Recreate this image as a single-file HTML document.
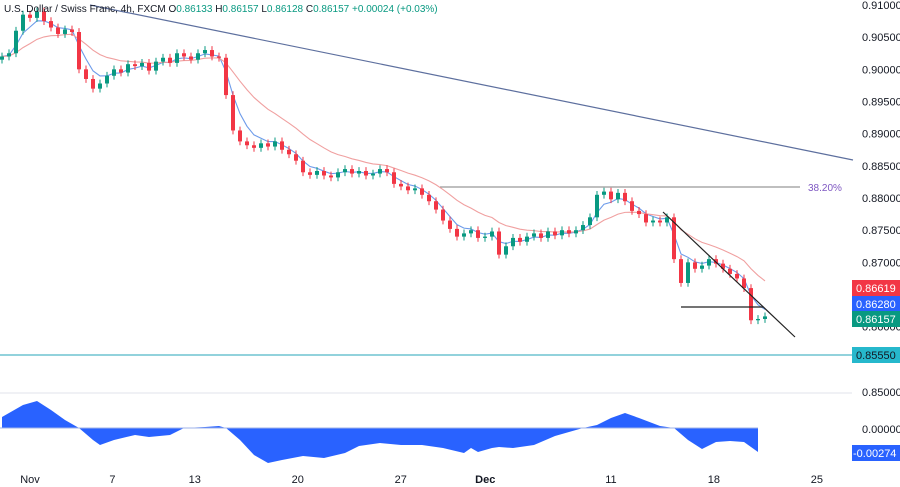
<!DOCTYPE html>
<html><head><meta charset="utf-8"><style>
html,body{margin:0;padding:0;background:#fff;}
svg{display:block;font-family:"Liberation Sans",sans-serif;}
</style></head><body>
<svg id="c" width="900" height="487"></svg>
<script>
// ---- data ----
const closes=[0.9020,0.9025,0.9060,0.9085,0.9080,0.9090,0.9075,0.9065,0.9055,0.9062,0.9058,0.9000,0.8985,0.8970,0.8978,0.8990,0.9000,0.8995,0.9008,0.9005,0.9010,0.8998,0.9012,0.9018,0.9010,0.9025,0.9020,0.9015,0.9025,0.9030,0.9020,0.9018,0.8960,0.8905,0.8888,0.8882,0.8878,0.8885,0.8880,0.8888,0.8875,0.8868,0.8858,0.8840,0.8836,0.8842,0.8835,0.8832,0.8840,0.8845,0.8838,0.8842,0.8835,0.8838,0.8845,0.8840,0.8822,0.8818,0.8812,0.8815,0.8805,0.8795,0.8782,0.8765,0.8752,0.8740,0.8745,0.8750,0.8738,0.8740,0.8748,0.8712,0.8725,0.8738,0.8732,0.8740,0.8745,0.8738,0.8748,0.8742,0.8750,0.8745,0.8750,0.8758,0.8770,0.8805,0.8810,0.8798,0.8808,0.8795,0.8780,0.8775,0.8762,0.8765,0.8762,0.8770,0.8705,0.8668,0.8700,0.8690,0.8695,0.8705,0.8698,0.8690,0.8682,0.8675,0.8660,0.8610,0.8612,0.8616];
const oscIdx=[0,3,5,7,9,11,13,14,16,19,21,24,26,29,31,32,34,36,38,40,43,46,49,51,54,57,60,63,66,67,68,70,71,73,76,79,81,83,85,87,89,91,94,96,98,100,102,104,106,108];
const oscVal=[125,262,308,205,91,0,-137,-194,-137,-80,-103,-80,0,11,23,0,-137,-308,-399,-365,-319,-342,-285,-205,-171,-194,-194,-228,-285,-228,-274,-228,-217,-228,-194,-91,-46,0,34,114,171,114,23,0,-137,-239,-160,-148,-160,-274];
const yTicks=[0.91,0.905,0.90,0.895,0.89,0.885,0.88,0.875,0.87,0.865,0.86,0.85];
const xLabels=["Nov","7","13","20","27","Dec","11","18","25"];
const xLabelDays=[0,4,8,13,18,22.1,28.2,33.2,38.2];
// ---- scales ----
const S=document.getElementById('c');const NS='http://www.w3.org/2000/svg';
const py=p=>5+(0.91-p)/0.005*32.17;
const bx=i=>2+i*7;
const dx=d=>30+d*20.6;
const oy=v=>428-v/11.4;
function mk(t,a,parent){const e=document.createElementNS(NS,t);for(const k in a)e.setAttribute(k,a[k]);(parent||S).appendChild(e);return e;}
let e=mk('line',{x1:0,y1:393,x2:852,y2:393,stroke:'#e0e3eb'});

yTicks.forEach(t=>{let y=py(t);if(t===0.85)y=392;const tx=mk('text',{x:862,y:y+4,'font-size':11,fill:'#131722'});tx.textContent=t.toFixed(5);
});
xLabels.forEach((l,i)=>{const tx=mk('text',{x:dx(xLabelDays[i]),y:483,'font-size':11,fill:'#131722','text-anchor':'middle','font-weight':l==='Dec'?'bold':'normal'});tx.textContent=l;
});
e=mk('line',{x1:90,y1:5,x2:853,y2:160,stroke:'#5d6f9e','stroke-width':1.2});

e=mk('line',{x1:440,y1:187,x2:800,y2:187,stroke:'#555','stroke-width':0.8});

e=mk('text',{x:808,y:191,'font-size':10,fill:'#7e57c2'});e.textContent='38.20%';

e=mk('line',{x1:0,y1:355,x2:852,y2:355,stroke:'#26a6b8','stroke-width':1});

function ema(n){let r=[],k=2/(n+1),v=closes[0];closes.forEach(c=>{v=c*k+v*(1-k);r.push(v);});return r;}
[[ema(4),'#6d9bea','fast-ma'],[ema(14),'#f0a0a0','slow-ma']].forEach(([a,c,n])=>{
e=mk('polyline',{points:a.map((v,i)=>bx(i)+','+py(v)).join(' '),fill:'none',stroke:c,'stroke-width':1.1});
});
const g=mk('g',{});
closes.forEach((c,i)=>{const o=i?closes[i-1]:c-0.0005;const up=c>=o;const col=up?'#089981':'#f23645';
const hi=Math.max(o,c)+0.0006,lo=Math.min(o,c)-0.0006;const x=bx(i);
let w=mk('line',{x1:x,y1:py(hi),x2:x,y2:py(lo),stroke:col,'stroke-width':1},g);

let b=mk('rect',{x:x-2,y:py(Math.max(o,c)),width:4,height:Math.max(1,Math.abs(py(o)-py(c))),fill:col},g);
});
e=mk('line',{x1:663,y1:212,x2:795,y2:337,stroke:'#222','stroke-width':1.2});

e=mk('line',{x1:681,y1:307,x2:763,y2:307,stroke:'#222','stroke-width':1.2});

let pts=oscIdx.map((j,i)=>bx(j)+','+oy(oscVal[i]));
e=mk('polygon',{points:bx(oscIdx[0])+','+oy(0)+' '+pts.join(' ')+' '+bx(oscIdx[oscIdx.length-1])+','+oy(0),fill:'#2962ff'});

e=mk('line',{x1:0,y1:428,x2:bx(oscIdx[oscIdx.length-1]),y2:428,stroke:'#9fb3e8','stroke-width':1});

e=mk('text',{x:862,y:433,'font-size':11,fill:'#131722'});e.textContent='0.00000';

[[0.86619,'#f23645','ma-slow-tag',280],[0.86280,'#2962ff','ma-fast-tag',296],[0.86157,'#089981','last-price-tag',311],[0.8555,'#26b8cc','support-tag',347]].forEach(([v,c,n,y])=>{
e=mk('rect',{x:852,y:y,width:48,height:16,fill:c});
e=mk('text',{x:856,y:y+12,'font-size':11,fill:n==='support-tag'?'#131722':'#fff'});e.textContent=v.toFixed(5);
});
e=mk('rect',{x:852,y:445,width:48,height:16,fill:'#2962ff'});
e=mk('text',{x:853,y:457,'font-size':11,fill:'#fff'});e.textContent='-0.00274';

e=mk('text',{x:4,y:12,'font-size':10,fill:'#131722'});
e.innerHTML='U.S. Dollar / Swiss Franc, 4h, FXCM O<tspan fill="#089981">0.86133</tspan> H<tspan fill="#089981">0.86157</tspan> L<tspan fill="#089981">0.86128</tspan> C<tspan fill="#089981">0.86157</tspan> <tspan fill="#089981">+0.00024 (+0.03%)</tspan>';

</script>
</body></html>
